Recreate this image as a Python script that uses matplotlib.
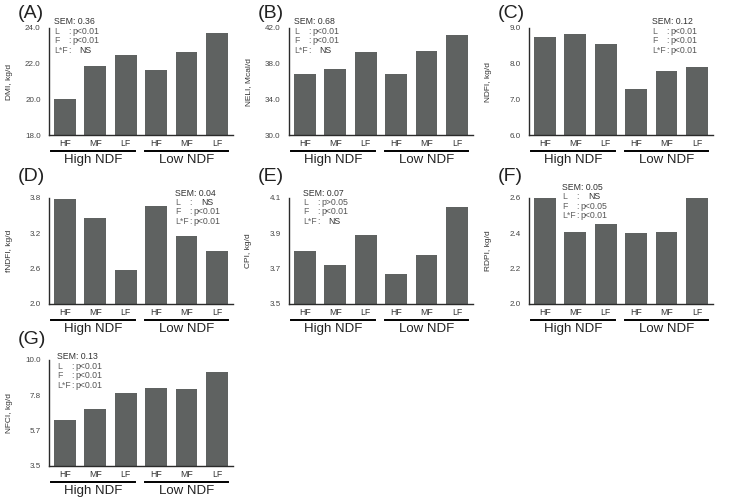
import matplotlib
matplotlib.use("Agg")
import matplotlib.pyplot as plt

plt.rcParams['font.family'] = ['Liberation Sans', 'DejaVu Sans']

# === DATA ===
diets = ['HF', 'MF', 'LF', 'HF', 'MF', 'LF']
groups = ['High NDF', 'Low NDF']

dmi = [20.0, 21.85, 22.5, 21.65, 22.65, 23.7]
neli = [36.8, 37.35, 39.35, 36.85, 39.4, 41.25]
ndfi = [8.75, 8.84, 8.55, 7.28, 7.79, 7.9]
fndfi = [3.79, 3.46, 2.57, 3.67, 3.15, 2.9]
cpi = [3.80, 3.72, 3.89, 3.67, 3.78, 4.05]
rdpi = [2.60, 2.41, 2.45, 2.40, 2.41, 2.60]
nfci = [6.3, 7.0, 7.95, 8.3, 8.2, 9.25]

panels = [
    ('(A)', 'DMI, kg/d', dmi, [18.0, 20.0, 22.0, 24.0], ['18.0', '20.0', '22.0', '24.0'],
     ['SEM: 0.36', 'p<0.01', 'p<0.01', 'NS']),
    ('(B)', 'NELI, Mcal/d', neli, [30.0, 34.0, 38.0, 42.0], ['30.0', '34.0', '38.0', '42.0'],
     ['SEM: 0.68', 'p<0.01', 'p<0.01', 'NS']),
    ('(C)', 'NDFI, kg/d', ndfi, [6.0, 7.0, 8.0, 9.0], ['6.0', '7.0', '8.0', '9.0'],
     ['SEM: 0.12', 'p<0.01', 'p<0.01', 'p<0.01']),
    ('(D)', 'fNDFI, kg/d', fndfi, [2.0, 2.6, 3.2, 3.8], ['2.0', '2.6', '3.2', '3.8'],
     ['SEM: 0.04', 'NS', 'p<0.01', 'p<0.01']),
    ('(E)', 'CPI, kg/d', cpi, [3.5, 3.7, 3.9, 4.1], ['3.5', '3.7', '3.9', '4.1'],
     ['SEM: 0.07', 'p>0.05', 'p<0.01', 'NS']),
    ('(F)', 'RDPI, kg/d', rdpi, [2.0, 2.2, 2.4, 2.6], ['2.0', '2.2', '2.4', '2.6'],
     ['SEM: 0.05', 'NS', 'p<0.05', 'p<0.01']),
    ('(G)', 'NFCI, kg/d', nfci, [3.5, 3.5 + 6.5 / 3, 3.5 + 13 / 3, 10.0], ['3.5', '5.7', '7.8', '10.0'],
     ['SEM: 0.13', 'p<0.01', 'p<0.01', 'p<0.01']),
]

# annotation anchor (axes fraction) per panel
note_pos = [(0.027, 1.06), (0.027, 1.06), (0.668, 1.06), (0.687, 1.047),
            (0.076, 1.047), (0.18, 1.10), (0.044, 1.03)]

W, H = 729, 503
fig = plt.figure(figsize=(W / 100, H / 100), dpi=100)

col_left = [49, 289, 529]
row_top = [28, 198, 360]
row_bot = [135, 304, 466]
letter_dy = [14, 21, 21]
ax_w = 184

bar_color = '#5f6261'
spine_color = '#2b2b2b'

for i, (letter, ylabel, vals, yt, ytl, notes) in enumerate(panels):
    r, c = divmod(i, 3)
    left = col_left[c]
    top, bot = row_top[r], row_bot[r]
    ax = fig.add_axes([left / W, 1 - bot / H, ax_w / W, (bot - top) / H])
    x = list(range(len(vals)))
    ax.bar(x, [v - yt[0] for v in vals], bottom=yt[0], width=0.72, color=bar_color)
    ax.set_xlim(-0.52, 5.53)
    ax.set_ylim(yt[0], yt[-1])
    ax.set_yticks(yt)
    ax.set_yticklabels(ytl, fontsize=5.8, color='#444444')
    ax.set_xticks(x)
    ax.set_xticklabels(diets, fontsize=6.3, color='#333333')
    ax.tick_params(axis='both', length=0)
    ax.tick_params(axis='y', pad=6)
    ax.tick_params(axis='x', pad=3)
    for s in ['top', 'right']:
        ax.spines[s].set_visible(False)
    for s in ['left', 'bottom']:
        ax.spines[s].set_color(spine_color)
        ax.spines[s].set_linewidth(1.0)
    ax.set_ylabel(ylabel, fontsize=6, color='#333333', va='center')
    ax.yaxis.set_label_coords(-40 / ax_w, 0.5)

    # group underlines and labels
    h = bot - top
    for (x0, x1), g in zip([(-0.44, 2.30), (2.63, 5.37)], groups):
        ax.plot([x0, x1], [-16 / h, -16 / h], color='black', lw=1.4,
                transform=ax.get_xaxis_transform(), clip_on=False)
        ax.text((x0 + x1) / 2, -25 / h, g, ha='center', va='center', fontsize=9.5,
                color='#222222', transform=ax.get_xaxis_transform())

    # statistics annotation
    nx, ny = note_pos[i]
    dy = 0.089
    fs = 6.3
    ax.text(nx, ny, notes[0], transform=ax.transAxes, fontsize=fs,
            color='#333333', va='center')
    for k, lab in enumerate(['L', 'F', 'L*F']):
        yy = ny - dy * (k + 1)
        val = notes[k + 1]
        ax.text(nx, yy, lab, transform=ax.transAxes, fontsize=fs, color='#666666', va='center')
        ax.text(nx + 0.076, yy, ':', transform=ax.transAxes, fontsize=fs, color='#666666', va='center')
        off = 0.14 if val == 'NS' else 0.1
        ax.text(nx + off, yy, val, transform=ax.transAxes, fontsize=fs,
                color='#555555' if val != 'NS' else '#333333', va='center')

    fig.text((left - 31) / W, 1 - (top - letter_dy[r]) / H, letter, fontsize=14,
             color='#222222', va='center', ha='left')

fig.savefig('out.png', dpi=100, facecolor='white')
